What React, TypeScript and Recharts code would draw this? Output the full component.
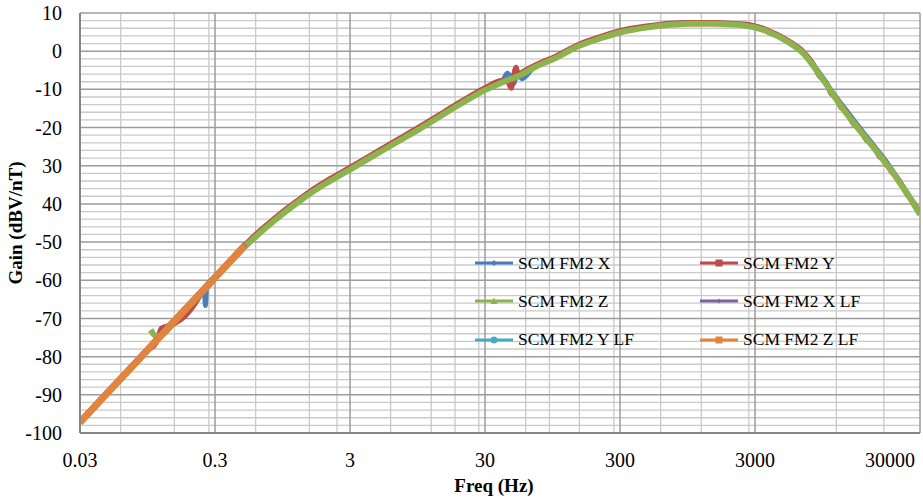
import { LineChart, Line, XAxis, YAxis, CartesianGrid, Legend } from "recharts"

// frequencies (Hz) of the measured sweep, main channels
const hfFreq = [
  0.1, 0.11, 0.12, 0.15, 0.18, 0.2, 0.25, 0.255, 0.26, 0.3, 0.4, 0.5, 0.6, 0.7, 0.8, 1, 1.2, 1.5, 2, 2.5, 3, 4, 5, 7,
  10, 15, 20, 30, 40, 44, 47, 49, 51, 53, 56, 70, 100, 150, 200, 300, 500, 700, 1000, 1500, 2000, 2500, 3000, 3500,
  4000, 4500, 5000, 5500, 6000, 6500, 7000, 8000, 9000, 10000, 11000, 12000, 13000, 14000, 16000, 18000, 20000, 22000,
  25000, 28000, 30000, 35000, 40000, 45000, 50000,
]

const xGain = [
  -77.2, -75.8, -74.2, -70.6, -67.6, -66.0, -62.4, -66.6, -61.7, -59.2, -54.6, -51.0, -48.4, -46.3, -44.6, -41.8, -39.7,
  -37.2, -34.4, -32.4, -30.8, -28.2, -26.2, -23.2, -20.0, -16.2, -13.5, -10.0, -8.0, -5.8, -7.1, -8.5, -6.6, -6.3, -7.2,
  -4.0, -1.6, 1.6, 3.2, 5.1, 6.5, 7.1, 7.4, 7.4, 7.2, 6.9, 6.5, 5.8, 4.9, 4.1, 3.2, 2.3, 1.4, 0.5, -0.6, -3.2, -5.7,
  -8.0, -10.3, -12.1, -13.8, -15.2, -17.9, -20.2, -22.3, -24.1, -26.6, -28.9, -30.4, -33.9, -37.0, -39.9, -42.6,
]

const yGain = [
  -77.9, -76.4, -72.6, -71.4, -69.4, -67.6, -62.4, -62.0, -61.7, -59.0, -54.3, -50.7, -48.0, -45.9, -44.2, -41.4, -39.3,
  -36.8, -34.0, -32.0, -30.4, -27.8, -25.8, -22.8, -19.6, -15.8, -13.1, -9.6, -7.7, -8.0, -9.7, -6.0, -4.2, -6.2, -5.6,
  -3.7, -1.3, 1.9, 3.5, 5.4, 6.7, 7.3, 7.5, 7.5, 7.3, 7.1, 6.6, 5.9, 5.0, 4.2, 3.3, 2.4, 1.5, 0.6, -0.6, -3.1, -6.6,
  -8.0, -11.2, -12.2, -14.8, -15.4, -19.0, -20.4, -23.3, -24.2, -27.6, -29.0, -31.1, -33.8, -37.5, -39.7, -42.5,
]

const zGain = [
  -73.0, -74.6, -74.4, -70.9, -67.9, -66.2, -62.6, -62.3, -62.0, -59.4, -54.8, -51.2, -48.6, -46.5, -44.8, -42.0, -39.9,
  -37.4, -34.6, -32.6, -31.0, -28.4, -26.4, -23.4, -20.2, -16.4, -13.7, -10.2, -8.2, -7.6, -7.2, -7.0, -6.7, -6.5, -6.1,
  -4.2, -1.8, 1.4, 3.0, 4.9, 6.3, 6.9, 7.2, 7.2, 7.0, 6.7, 6.2, 5.5, 4.6, 3.8, 2.9, 2.0, 1.1, 0.1, -1.0, -3.6, -6.1,
  -8.4, -10.6, -12.6, -14.4, -15.9, -18.6, -20.9, -22.9, -24.7, -27.2, -29.5, -30.8, -34.2, -37.2, -40.1, -42.8,
]

// low frequency sweep
const lfFreq = [0.03, 0.035, 0.04, 0.05, 0.06, 0.07, 0.08, 0.1, 0.12, 0.15, 0.2, 0.25, 0.3, 0.35, 0.4, 0.45, 0.5]
const xLfGain = [-97.0, -94.5, -92.3, -88.6, -85.6, -83.1, -80.9, -77.2, -74.2, -70.5, -65.8, -62.1, -59.1, -56.6, -54.4, -52.4, -50.7]
const yLfGain = [-97.3, -94.8, -92.6, -88.9, -85.9, -83.4, -81.2, -77.5, -74.5, -70.8, -66.1, -62.4, -59.4, -56.9, -54.7, -52.7, -51.0]
const zLfGain = [-97.2, -94.7, -92.5, -88.8, -85.8, -83.3, -81.1, -77.4, -74.4, -70.7, -66.0, -62.3, -59.3, -56.8, -54.6, -52.6, -50.9]

const xTicks = [0.03, 0.3, 3, 30, 300, 3000, 30000]
const yTicks = [-100, -90, -80, -70, -60, -50, -40, -30, -20, -10, 0, 10]
const yLabels = ["-100", "-90", "-80", "-70", "-60", "-50", "40", "30", "-20", "-10", "0", "10"]

const X_MAX = 50000
const FONT = '"Liberation Serif", "Times New Roman", serif'

const minorX: number[] = []
for (let d = 0.03; d < X_MAX; d *= 10) {
  for (let k = 2; k <= 9; k++) if (d * k < X_MAX) minorX.push(d * k)
}
const minorY: number[] = []
for (let v = -98; v < 10; v += 2) if (v % 10 !== 0) minorY.push(v)

const toPoints = (freq: number[], gain: number[]) => freq.map((f, i) => ({ f, g: gain[i] }))

const series = [
  { name: "SCM FM2 X", color: "#4a7ebb", marker: "diamond", width: 5, data: toPoints(hfFreq, xGain) },
  { name: "SCM FM2 Y", color: "#be4b48", marker: "square", width: 5, data: toPoints(hfFreq, yGain) },
  { name: "SCM FM2 Z", color: "#8db34f", marker: "triangle", width: 6, data: toPoints(hfFreq, zGain) },
  { name: "SCM FM2 X LF", color: "#7d60a0", marker: "star", width: 6, data: toPoints(lfFreq, xLfGain) },
  { name: "SCM FM2 Y LF", color: "#46aac5", marker: "circle", width: 6, data: toPoints(lfFreq, yLfGain) },
  { name: "SCM FM2 Z LF", color: "#e3843c", marker: "square", width: 7, data: toPoints(lfFreq, zLfGain) },
]

function Marker({ type, color }: { type: string; color: string }) {
  if (type === "diamond") return <polygon points="19,3 22,6 19,9 16,6" fill={color} />
  if (type === "square") return <rect x={15.5} y={2.5} width={7} height={7} fill={color} />
  if (type === "triangle") return <polygon points="19,2.5 22.5,9 15.5,9" fill={color} />
  if (type === "star") return <polygon points="19,3.5 21,6 19,8.5 17,6" fill={color} />
  return <circle cx={19} cy={6} r={3.5} fill={color} />
}

function LegendBox() {
  return (
    <div style={{ display: "grid", gridTemplateColumns: "225px 225px", fontFamily: FONT, fontSize: 17.5 }}>
      {series.map((s) => (
        <div key={s.name} style={{ display: "flex", alignItems: "center", height: 38.3 }}>
          <svg width={38} height={12} style={{ marginRight: 5 }}>
            <line x1={0} x2={38} y1={6} y2={6} stroke={s.color} strokeWidth={3} />
            <Marker type={s.marker} color={s.color} />
          </svg>
          <span style={{ color: "#000", whiteSpace: "nowrap" }}>{s.name}</span>
        </div>
      ))}
    </div>
  )
}

function XTitle(props: any) {
  const { x, y, width } = props.viewBox
  return (
    <text x={x + width / 2 - 6} y={y + 59} textAnchor="middle" fontFamily={FONT} fontWeight="bold" fontSize={19}>
      Freq (Hz)
    </text>
  )
}

function YTitle(props: any) {
  const { y, height } = props.viewBox
  const cx = 15
  const cy = y + height / 2
  return (
    <text
      x={cx}
      y={cy}
      transform={`rotate(-90 ${cx} ${cy})`}
      textAnchor="middle"
      dominantBaseline="central"
      fontFamily={FONT}
      fontWeight="bold"
      fontSize={19}
    >
      Gain (dBV/nT)
    </text>
  )
}

export default function App() {
  return (
    <div style={{ position: "absolute", left: 0, top: 0, width: 923, height: 500, background: "#fff" }}>
      <LineChart width={923} height={500} margin={{ top: 13, right: 3, bottom: 0, left: 0 }}>
        <CartesianGrid stroke="#cacaca" strokeWidth={1.3} horizontalValues={minorY} verticalValues={minorX} />
        <CartesianGrid stroke="#9c9c9c" strokeWidth={1.5} horizontalValues={yTicks} verticalValues={[...xTicks, X_MAX]} />
        <XAxis
          type="number"
          dataKey="f"
          scale="log"
          domain={[0.03, X_MAX]}
          allowDataOverflow
          ticks={xTicks}
          tickFormatter={(v: number) => String(v)}
          tick={{ fill: "#000", fontSize: 20, fontFamily: FONT }}
          tickLine={false}
          tickSize={6}
          tickMargin={14}
          axisLine={{ stroke: "#868686", strokeWidth: 2 }}
          height={67}
          label={<XTitle />}
        />
        <YAxis
          type="number"
          domain={[-100, 10]}
          ticks={yTicks}
          interval={0}
          tickFormatter={(v: number) => yLabels[yTicks.indexOf(v)]}
          tick={{ fill: "#000", fontSize: 20, fontFamily: FONT }}
          tickLine={false}
          tickSize={6}
          tickMargin={12}
          axisLine={{ stroke: "#868686", strokeWidth: 2 }}
          width={80}
          label={<YTitle />}
        />
        <Legend
          layout="horizontal"
          verticalAlign="middle"
          align="center"
          content={() => <LegendBox />}
          wrapperStyle={{ left: 475, top: 244, width: 450, height: 115 }}
        />
        {series.map((s) => (
          <Line
            key={s.name}
            name={s.name}
            data={s.data}
            dataKey="g"
            type="monotone"
            stroke={s.color}
            strokeWidth={s.width}
            dot={false}
            isAnimationActive={false}
          />
        ))}
      </LineChart>
    </div>
  )
}
